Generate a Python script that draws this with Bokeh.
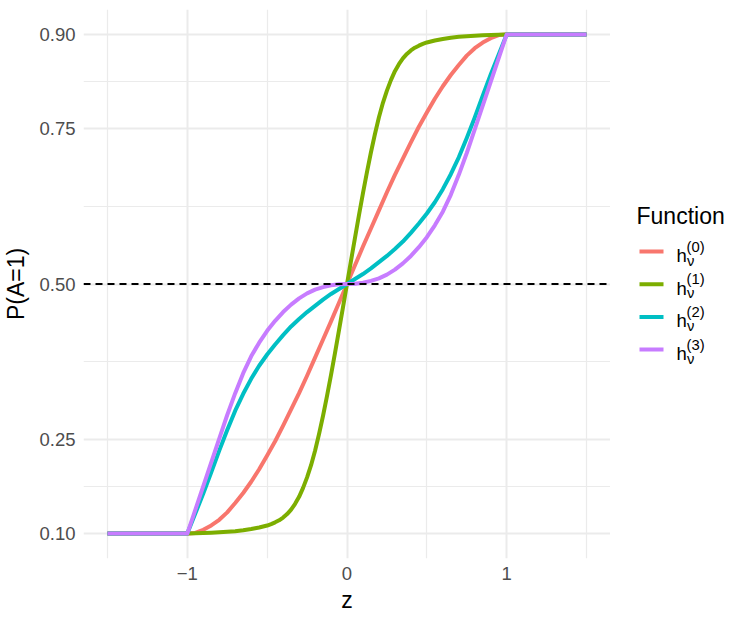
from bokeh.plotting import figure
from bokeh.models import Range1d, FixedTicker, CustomJSTickFormatter, Span
from bokeh.layouts import row
from bokeh.embed import file_html
from bokeh.resources import INLINE
from bokeh.core.properties import value

# ---------------- data ----------------
z = [-1.5, -1.0, -0.95, -0.9, -0.85, -0.8, -0.75, -0.7, -0.65, -0.6, -0.55,
     -0.5, -0.45, -0.4, -0.35, -0.3, -0.25, -0.2, -0.15, -0.1, -0.05,
     0.0, 0.05, 0.1, 0.15, 0.2, 0.25, 0.3, 0.35, 0.4, 0.45, 0.5,
     0.55, 0.6, 0.65, 0.7, 0.75, 0.8, 0.85, 0.9, 0.95, 1.0, 1.5]

h0 = [0.1, 0.1, 0.101, 0.106, 0.113, 0.122, 0.134, 0.149, 0.165, 0.183, 0.203,
      0.225, 0.248, 0.273, 0.299, 0.325, 0.353, 0.382, 0.411, 0.440, 0.470,
      0.5, 0.530, 0.560, 0.589, 0.618, 0.647, 0.675, 0.701, 0.727, 0.752, 0.775,
      0.797, 0.817, 0.835, 0.851, 0.866, 0.878, 0.887, 0.894, 0.899, 0.9, 0.9]

# h1 is steep, so it was read on a finer grid
z1 = [-1.5, -1.0, -0.95, -0.9, -0.85, -0.8, -0.75, -0.7, -0.65,
      -0.6, -0.575, -0.55, -0.525, -0.5, -0.475, -0.45, -0.425, -0.4, -0.375,
      -0.35, -0.325, -0.3, -0.275, -0.25, -0.225, -0.2, -0.175, -0.15, -0.125,
      -0.1, -0.075, -0.05, -0.025, 0.0,
      0.025, 0.05, 0.075, 0.1, 0.125, 0.15, 0.175, 0.2, 0.225, 0.25,
      0.275, 0.3, 0.325, 0.35, 0.375, 0.4, 0.425, 0.45, 0.475, 0.5,
      0.525, 0.55, 0.575, 0.6, 0.65, 0.7, 0.75, 0.8, 0.85, 0.9, 0.95, 1.0, 1.5]
h1 = [0.1, 0.1, 0.1004, 0.1008, 0.1014, 0.102, 0.1028, 0.1038, 0.1052,
      0.1072, 0.1084, 0.1096, 0.1112, 0.1128, 0.1152, 0.118, 0.1212, 0.1256, 0.1312,
      0.1384, 0.1476, 0.1588, 0.1732, 0.19, 0.2096, 0.2328, 0.2596, 0.2888, 0.3208,
      0.3544, 0.3896, 0.426, 0.4628, 0.5,
      0.5372, 0.574, 0.6104, 0.6456, 0.6792, 0.7112, 0.7404, 0.7672, 0.7904, 0.81,
      0.8268, 0.8412, 0.8524, 0.8616, 0.8688, 0.8744, 0.8788, 0.882, 0.8848, 0.8872,
      0.8888, 0.8904, 0.8916, 0.8928, 0.8948, 0.8962, 0.8972, 0.898, 0.8986, 0.8992,
      0.8996, 0.9, 0.9]

h2 = [0.1, 0.1, 0.132, 0.164, 0.198, 0.233, 0.266, 0.297, 0.324, 0.348, 0.369,
      0.387, 0.403, 0.418, 0.432, 0.444, 0.455, 0.465, 0.475, 0.484, 0.492,
      0.5, 0.508, 0.516, 0.525, 0.535, 0.545, 0.556, 0.568, 0.582, 0.597, 0.613,
      0.631, 0.652, 0.676, 0.703, 0.734, 0.767, 0.802, 0.836, 0.868, 0.9, 0.9]

h3 = [0.1, 0.1, 0.138, 0.176, 0.214, 0.252, 0.290, 0.325, 0.357, 0.384, 0.406,
      0.425, 0.441, 0.455, 0.467, 0.477, 0.485, 0.491, 0.495, 0.498, 0.4996,
      0.5, 0.5004, 0.502, 0.505, 0.509, 0.515, 0.523, 0.533, 0.545, 0.559, 0.575,
      0.594, 0.616, 0.643, 0.675, 0.710, 0.748, 0.786, 0.824, 0.862, 0.9, 0.9]

series = [(z, h0), (z1, h1), (z, h2), (z, h3)]
colors = ["#F8766D", "#7CAE00", "#00BFC4", "#C77CFF"]

x_ticks = [-1, 0, 1]
x_tick_labels = ["\u22121", "0", "1"]
x_minor = [-1.5, -0.5, 0.5, 1.5]
y_ticks = [0.10, 0.25, 0.50, 0.75, 0.90]
y_tick_labels = ["0.10", "0.25", "0.50", "0.75", "0.90"]
y_minor = [0.175, 0.375, 0.625, 0.825]
ref_level = 0.5

x_title = "z"
y_title = "P(A=1)"
legend_title = "Function"
legend_base = "h"
legend_sub = "\u03bd"
legend_sup = ["(0)", "(1)", "(2)", "(3)"]

FONT = "Liberation Sans"
W, H = 747, 623
FL, FR, FT, FB = 82, 610, 9, 558   # panel edges in page pixels

# ---------------- main panel ----------------
p = figure(width=FR, height=H,
           x_range=Range1d(-1.65, 1.65), y_range=Range1d(0.06, 0.94),
           output_backend="svg", toolbar_location=None,
           min_border_left=FL, min_border_right=0,
           min_border_top=FT, min_border_bottom=H - FB)
p.outline_line_color = None
p.background_fill_color = "white"
p.border_fill_color = "white"

xt = FixedTicker(ticks=x_ticks, minor_ticks=x_minor)
yt = FixedTicker(ticks=y_ticks, minor_ticks=y_minor)
p.xaxis.ticker = xt
p.yaxis.ticker = yt
p.xgrid.ticker = xt
p.ygrid.ticker = yt

fmt_code = """
let best = -1, bd = 1e9;
for (let i = 0; i < tvals.length; i++) {
  const d = Math.abs(tvals[i] - tick);
  if (d < bd) { bd = d; best = i; }
}
return bd < 1e-6 ? tlabels[best] : "";
"""
p.xaxis.formatter = CustomJSTickFormatter(args=dict(tvals=x_ticks, tlabels=x_tick_labels), code=fmt_code)
p.yaxis.formatter = CustomJSTickFormatter(args=dict(tvals=y_ticks, tlabels=y_tick_labels), code=fmt_code)

for g in (p.xgrid, p.ygrid):
    g.grid_line_color = "#EBEBEB"
    g.grid_line_width = 2
    g.minor_grid_line_color = "#EBEBEB"
    g.minor_grid_line_width = 1.2

for ax in (p.xaxis, p.yaxis):
    ax.axis_line_color = None
    ax.major_tick_line_color = None
    ax.minor_tick_line_color = None
    ax.major_tick_out = 0
    ax.major_tick_in = 0
    ax.minor_tick_out = 0
    ax.minor_tick_in = 0
    ax.major_label_text_font = FONT
    ax.major_label_text_font_size = "18.5px"
    ax.major_label_text_color = "#4D4D4D"
    ax.axis_label_text_font = FONT
    ax.axis_label_text_font_size = "23px"
    ax.axis_label_text_font_style = "normal"
    ax.axis_label_text_color = "black"

p.xaxis.axis_label = x_title
p.yaxis.axis_label = y_title
p.xaxis.major_label_standoff = 8
p.xaxis.axis_label_standoff = 4
p.yaxis.major_label_standoff = 8
p.yaxis.axis_label_standoff = 7

p.add_layout(Span(location=ref_level, dimension="width", line_color="black",
                  line_width=2, line_dash="7 5"))

for (xs, ys), c in zip(series, colors):
    p.line(xs, ys, line_color=c, line_width=4, line_join="round")

# ---------------- legend panel (frame aligned with the main panel) ----------------
leg = figure(width=W - FR, height=H,
             x_range=Range1d(FR, W), y_range=Range1d(FB, FT),
             output_backend="svg", toolbar_location=None,
             min_border_left=0, min_border_right=0,
             min_border_top=FT, min_border_bottom=H - FB,
             x_axis_type=None, y_axis_type=None)
leg.outline_line_color = None
leg.background_fill_color = "white"
leg.border_fill_color = "white"
leg.grid.visible = False

leg.text(x=[636], y=[215], text=[legend_title], text_font=value(FONT),
         text_font_size=value("23px"), text_color="black",
         text_baseline="alphabetic", text_align="left")

key_y = [251 + 32.7 * i for i in range(len(colors))]
leg.segment(x0=[639] * 4, y0=key_y, x1=[663] * 4, y1=key_y,
            line_color=colors, line_width=4)
leg.text(x=[676] * 4, y=[k + 4 for k in key_y], text=[legend_base] * 4,
         text_font=value(FONT), text_font_size=value("18.5px"), text_color="black",
         text_baseline="alphabetic", text_align="left")
leg.text(x=[686.5] * 4, y=[k + 9 for k in key_y], text=[legend_sub] * 4,
         text_font=value(FONT), text_font_size=value("14.8px"), text_color="black",
         text_baseline="alphabetic", text_align="left")
leg.text(x=[686] * 4, y=[k - 5 for k in key_y], text=legend_sup,
         text_font=value(FONT), text_font_size=value("14.8px"), text_color="black",
         text_baseline="alphabetic", text_align="left")

layout = row(p, leg)
open("out.html", "w").write(file_html(layout, INLINE))
